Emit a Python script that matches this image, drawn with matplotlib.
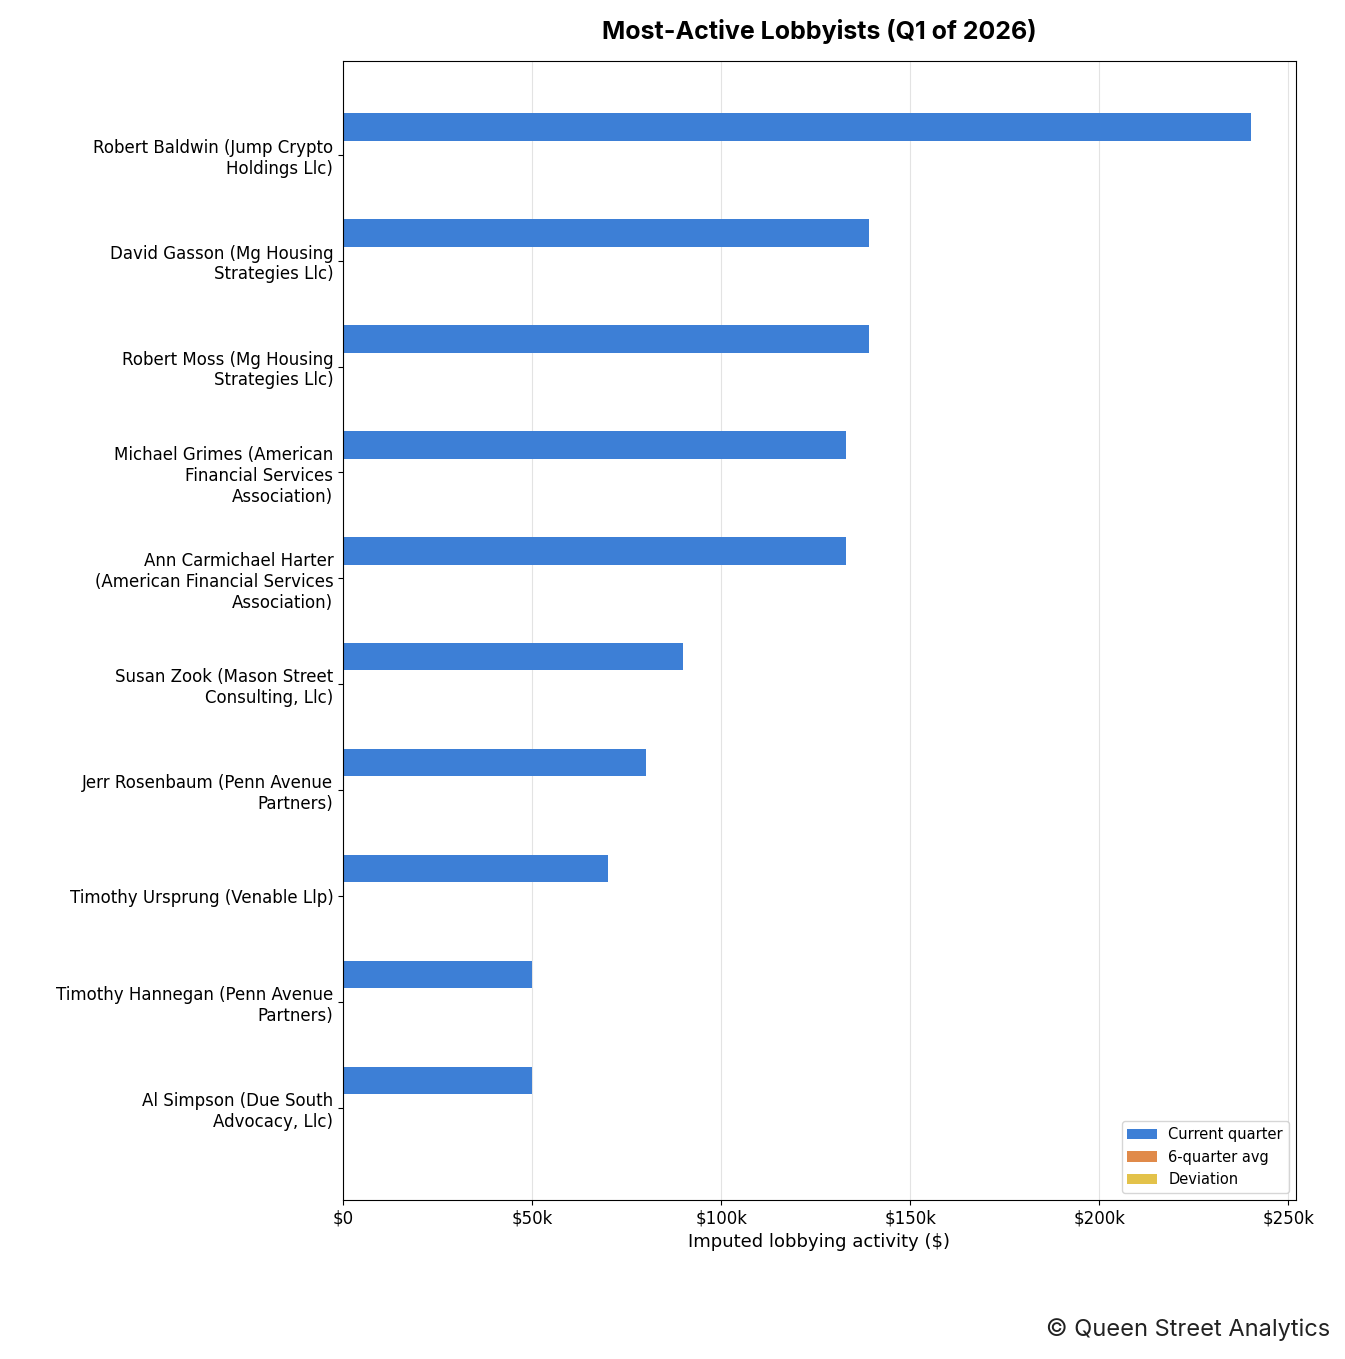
import matplotlib.pyplot as plt
import numpy as np

names = [
    'Robert Baldwin (Jump Crypto\nHoldings Llc)',
    'David Gasson (Mg Housing\nStrategies Llc)',
    'Robert Moss (Mg Housing\nStrategies Llc)',
    'Michael Grimes (American\nFinancial Services\nAssociation)',
    'Ann Carmichael Harter\n(American Financial Services\nAssociation)',
    'Susan Zook (Mason Street\nConsulting, Llc)',
    'Jerr Rosenbaum (Penn Avenue\nPartners)',
    'Timothy Ursprung (Venable Llp)',
    'Timothy Hannegan (Penn Avenue\nPartners)',
    'Al Simpson (Due South\nAdvocacy, Llc)',
]
current = [240000, 139000, 139000, 133000, 133000, 90000, 80000, 70000, 50000, 50000]
avg6 = [0] * 10
deviation = [0] * 10

y = np.arange(len(names))
h = 0.26

fig = plt.figure(figsize=(13.45, 13.59), dpi=100)
ax = fig.add_axes([343/1345, 1-1200/1359, (1296-343)/1345, (1200-61)/1359])
ax.barh(y - h, current, height=h, color='#3d7fd6', label='Current quarter', zorder=2)
ax.barh(y, avg6, height=h, color='#e08a4a', label='6-quarter avg', zorder=2)
ax.barh(y + h, deviation, height=h, color='#e3c24a', label='Deviation', zorder=2)

ax.set_yticks(y)
ax.set_yticklabels(names, fontsize=12)
ax.set_ylim(9.87, -0.885)
ax.set_xlim(0, 252000)
ax.set_xticks([0, 50000, 100000, 150000, 200000, 250000])
ax.set_xticklabels(['$0', '$50k', '$100k', '$150k', '$200k', '$250k'], fontsize=12)
ax.xaxis.grid(True, color='#e3e3e3', zorder=0)
ax.set_axisbelow(True)
ax.set_xlabel('Imputed lobbying activity ($)', fontsize=13)
ax.set_title('Most-Active Lobbyists (Q1 of 2026)', fontsize=18, fontweight='bold',
             family='Inter', pad=16)
ax.legend(loc='lower right', fontsize=10.5)
fig.text(1330/1345, 1-1330/1359, '© Queen Street Analytics', ha='right', va='center',
         fontsize=17, family='Inter', color='#222222')
fig.savefig('out.png', dpi=100)
